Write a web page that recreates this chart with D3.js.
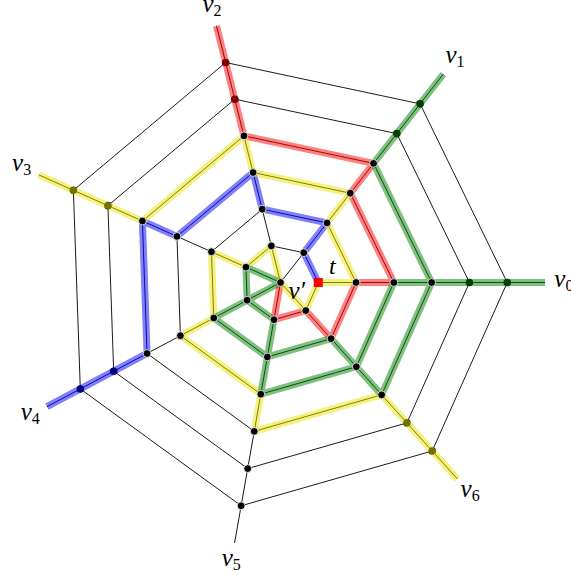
<!DOCTYPE html>
<html>
<head>
<meta charset="utf-8">
<script src="https://cdn.jsdelivr.net/npm/d3@7"></script>
<style>
  body { margin: 0; background: #fff; }
  svg { display: block; }
  .lbl { font-family: "Liberation Serif", "DejaVu Serif", serif; font-style: italic; }
  .sub { font-style: normal; }
</style>
</head>
<body>
<svg width="571" height="575"></svg>
<script>
// spoke directions (degrees) and their labels
var spokeAngles = [0, 52, 104, 156, 208, 260, 312];
var spokeLabels = ["0", "1", "2", "3", "4", "5", "6"];
var rings = [1, 2, 3, 4, 5, 6];
var extRing = 7;        // spokes run out to here
var labelRing = 7.5;    // v_i labels sit here
var centerSpokes = [1, 2, 3, 4, 5, 6];   // center v' joined to ring 1 on these spokes

// coloured paths, nodes written "ring-spoke", "c" is v'
var redPaths = [
  ["7-2", "6-2", "5-2", "4-2", "4-1", "3-1", "3-0", "2-0", "2-6", "1-6", "1-5", "c"]
];
var bluePaths = [
  ["7-4", "6-4", "5-4", "4-4", "4-3", "3-3", "3-2", "2-2", "2-1", "1-1", "1-0"]
];
var yellowPaths = [
  ["7-3", "6-3", "5-3", "4-3", "4-2", "3-2", "3-1", "2-1", "2-0", "1-0"],
  ["7-6", "6-6", "5-6", "4-6", "4-5", "3-5", "3-4", "2-4", "2-3", "1-3", "1-2", "c", "1-6", "1-0"]
];
var greenPaths = [
  ["7-1", "6-1", "5-1", "4-1", "4-0", "5-0", "6-0", "7-0"],
  ["3-0", "4-0", "4-6", "3-6", "3-0"],
  ["3-6", "2-6", "2-5", "3-5", "3-6"],
  ["2-5", "2-4", "1-4", "1-5", "2-5"],
  ["1-4", "1-3", "c", "1-4"]
];

var svg = d3.select("svg");
var cx = 280.5, cy = 282.5;

var r = d3.scaleLinear().domain([0, 7]).range([0, 264.5]);

function pos(id) {
  if (id === "c") return [cx, cy];
  var p = id.split("-").map(Number);
  var a = spokeAngles[p[1]] * Math.PI / 180;
  return [cx + r(p[0]) * Math.cos(a), cy - r(p[0]) * Math.sin(a)];
}

// all edges of the web
var edges = [];
rings.forEach(function(k) {
  spokeAngles.forEach(function(a, j) {
    edges.push([k + "-" + j, k + "-" + ((j + 1) % 7)]);
    edges.push([k + "-" + j, (k + 1) + "-" + j]);
  });
});
centerSpokes.forEach(function(j) { edges.push(["c", "1-" + j]); });

svg.append("g")
  .selectAll("line")
  .data(edges)
  .enter().append("line")
  .attr("x1", function(d) { return pos(d[0])[0]; })
  .attr("y1", function(d) { return pos(d[0])[1]; })
  .attr("x2", function(d) { return pos(d[1])[0]; })
  .attr("y2", function(d) { return pos(d[1])[1]; })
  .attr("stroke", "#000")
  .attr("stroke-width", 0.9);

// nodes
var nodes = ["c"];
rings.forEach(function(k) {
  spokeAngles.forEach(function(a, j) { nodes.push(k + "-" + j); });
});
nodes = nodes.filter(function(n) { return n !== "1-0"; });

var groups = [
  {color: "#ff0000", paths: redPaths},
  {color: "#0000ff", paths: bluePaths},
  {color: "#ece400", paths: yellowPaths},
  {color: "#008000", paths: greenPaths}
];

// nodes on the outer coloured legs get covered by the band
var covered = {};
groups.forEach(function(g) {
  g.paths.forEach(function(p) {
    p.forEach(function(n) { if (n !== "c" && +n.split("-")[0] >= 5) covered[n] = true; });
  });
});

svg.append("g")
  .selectAll("circle")
  .data(nodes.filter(function(n) { return covered[n]; }))
  .enter().append("circle")
  .attr("cx", function(d) { return pos(d)[0]; })
  .attr("cy", function(d) { return pos(d)[1]; })
  .attr("r", 3.8)
  .attr("fill", "#000");

var line = d3.line();

svg.append("g")
  .selectAll("path")
  .data(groups)
  .enter().append("path")
  .attr("d", function(g) {
    return g.paths.map(function(p) { return line(p.map(pos)); }).join("");
  })
  .attr("fill", "none")
  .attr("stroke", function(g) { return g.color; })
  .attr("stroke-opacity", 0.5)
  .attr("stroke-width", 7)
  .attr("stroke-linejoin", "round");

svg.append("g")
  .selectAll("circle")
  .data(nodes.filter(function(n) { return !covered[n]; }))
  .enter().append("circle")
  .attr("cx", function(d) { return pos(d)[0]; })
  .attr("cy", function(d) { return pos(d)[1]; })
  .attr("r", 3.9)
  .attr("fill", "#000")
  .attr("stroke", "#fff")
  .attr("stroke-width", 0.8);

// t
var tp = pos("1-0");
svg.append("rect")
  .attr("x", tp[0] - 4.5)
  .attr("y", tp[1] - 4.5)
  .attr("width", 9)
  .attr("height", 9)
  .attr("fill", "#ff0000");

svg.append("text")
  .attr("class", "lbl")
  .attr("x", tp[0] + 14)
  .attr("y", tp[1] - 9)
  .attr("text-anchor", "middle")
  .attr("font-size", 24)
  .text("t");

svg.append("text")
  .attr("class", "lbl")
  .attr("x", cx + 8)
  .attr("y", cy + 16)
  .attr("font-size", 25)
  .text("v\u2032");

// v_i labels
var labels = svg.append("g")
  .selectAll("text")
  .data(spokeAngles)
  .enter().append("text")
  .attr("class", "lbl")
  .attr("text-anchor", "middle")
  .attr("x", function(a) { return cx + r(labelRing) * Math.cos(a * Math.PI / 180); })
  .attr("y", function(a) { return cy - r(labelRing) * Math.sin(a * Math.PI / 180) + 4; })
  .attr("font-size", 25);

labels.append("tspan").text("v");
labels.append("tspan")
  .attr("class", "sub")
  .attr("font-size", 16)
  .attr("dy", 4)
  .text(function(a, i) { return spokeLabels[i]; });
</script>
</body>
</html>
